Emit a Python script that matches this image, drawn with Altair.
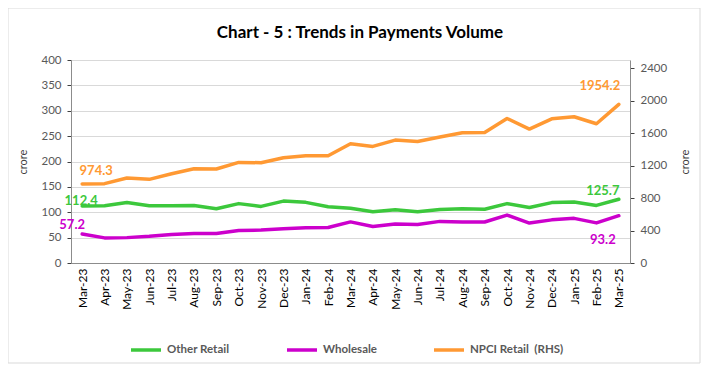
import altair as alt
import pandas as pd

months = ["Mar-23", "Apr-23", "May-23", "Jun-23", "Jul-23", "Aug-23", "Sep-23",
          "Oct-23", "Nov-23", "Dec-23", "Jan-24", "Feb-24", "Mar-24", "Apr-24",
          "May-24", "Jun-24", "Jul-24", "Aug-24", "Sep-24", "Oct-24", "Nov-24",
          "Dec-24", "Jan-25", "Feb-25", "Mar-25"]
other_retail = [112.4, 113, 119, 113, 113, 113.5, 107, 117, 111.5, 122, 119.5, 111,
                108, 101, 105, 101, 105.6, 107, 106, 117, 109.5, 119, 120, 113.5, 125.7]
wholesale = [57.2, 49.5, 50, 52.5, 56, 58, 58, 64, 65, 67.5, 69.5, 70,
             81, 72, 77, 76, 82, 81, 80.7, 94.4, 78.7, 85, 88, 79, 93.2]
npci_retail = [974.3, 977, 1046, 1030, 1099, 1161, 1157, 1239, 1235, 1296, 1321, 1321,
               1469, 1436, 1514, 1497, 1551, 1604, 1608, 1780, 1649, 1776, 1801, 1715, 1954.2]

series_names = ["Other Retail", "Wholesale", "NPCI Retail\u00a0 (RHS)"]
series_colors = ["#3CC83C", "#CC00CC", "#FF9933"]
left_ticks = list(range(0, 401, 50))
right_ticks = list(range(0, 2401, 400))
title_text = "Chart - 5 : Trends in Payments Volume"

df = pd.DataFrame({"month": months, "other": other_retail,
                   "wholesale": wholesale, "npci": npci_retail})

FONT = "Lato"

x_enc = alt.X("month:O", sort=months, scale=alt.Scale(type="point", padding=0.5),
              axis=alt.Axis(title=None, labelAngle=270, ticks=False, domainColor="#8C8C8C",
                            labelColor="#000000", labelFontSize=12, labelPadding=5,
                            grid=False))

left_axis = alt.Axis(title="crore", values=left_ticks, grid=True, format="d",
                     labelOverlap=False, gridColor="#D9D9D9", domainColor="#8C8C8C",
                     tickColor="#404040", tickSize=4, labelColor="#595959",
                     labelFontSize=11.5, labelPadding=6, titleFontWeight="normal",
                     titleFontSize=11, titleColor="#404040", titlePadding=12)
right_axis = alt.Axis(orient="right", title="crore", values=right_ticks, grid=False,
                      format="d", labelOverlap=False, domainColor="#8C8C8C",
                      tickColor="#404040", tickSize=4, labelColor="#595959",
                      labelFontSize=11.5, labelPadding=6, titleFontWeight="normal",
                      titleFontSize=11, titleColor="#404040", titlePadding=24,
                      titleAngle=270)
left_scale = alt.Scale(domain=[0, 400])
right_scale = alt.Scale(domain=[0, 2500])

legend = alt.Legend(title=None, orient="none", legendX=58, legendY=273, direction="horizontal",
                    symbolType="stroke", symbolSize=900, symbolStrokeWidth=3.5,
                    labelFontSize=11.5, labelFontWeight="bold", labelColor="#595959",
                    columnPadding=50, labelOffset=4)

color_scale = alt.Scale(domain=series_names, range=series_colors)

left_lines = alt.Chart(df).transform_fold(
    ["other", "wholesale"], as_=["key", "value"]
).transform_calculate(
    series=f"datum.key == 'other' ? '{series_names[0]}' : '{series_names[1]}'"
).mark_line(strokeWidth=3.5, strokeCap="round", strokeJoin="round").encode(
    x=x_enc,
    y=alt.Y("value:Q", scale=left_scale, axis=left_axis),
    color=alt.Color("series:N", scale=color_scale, legend=legend),
)

def label(field, month, color, dx, dy, scale, axis):
    return alt.Chart(df).transform_filter(alt.datum.month == month).mark_text(
        color=color, fontSize=13, fontWeight="bold", dx=dx, dy=dy,
        align="center", font=FONT
    ).encode(x=x_enc, y=alt.Y(f"{field}:Q", scale=scale, axis=axis),
             text=alt.Text(f"{field}:Q", format=".1f"))

left_labels = [
    label("other", "Mar-23", series_colors[0], -1, -5, left_scale, left_axis),
    label("wholesale", "Mar-23", series_colors[1], -10, -9, left_scale, left_axis),
    label("other", "Mar-25", series_colors[0], -16, -8, left_scale, left_axis),
    label("wholesale", "Mar-25", series_colors[1], -16, 24, left_scale, left_axis),
]

border = alt.Chart(alt.Data(values=[{}])).mark_rect(
    fill=None, stroke="#D9D9D9", strokeWidth=1
).encode(x=alt.value(-63), x2=alt.value(629), y=alt.value(-52), y2=alt.value(303))

title_mark = alt.Chart(alt.Data(values=[{"t": title_text}])).mark_text(
    fontSize=17, fontWeight="bold", color="#000000", font=FONT, align="center",
    baseline="alphabetic"
).encode(text="t:N", x=alt.value(289), y=alt.value(-22))

left_layer = alt.layer(border, title_mark, left_lines, *left_labels)

right_line = alt.Chart(df).transform_calculate(
    series=f"'{series_names[2]}'"
).mark_line(strokeWidth=3.5, strokeCap="round", strokeJoin="round").encode(
    x=x_enc,
    y=alt.Y("npci:Q", scale=right_scale, axis=right_axis),
    color=alt.Color("series:N", scale=color_scale, legend=legend),
)

right_labels = [
    label("npci", "Mar-23", series_colors[2], 14, -13, right_scale, right_axis),
    label("npci", "Mar-25", series_colors[2], -19, -18, right_scale, right_axis),
]

right_layer = alt.layer(right_line, *right_labels)

chart = alt.layer(left_layer, right_layer).resolve_scale(y="independent").properties(
    width=559, height=203,
    autosize=alt.AutoSizeParams(type="none"),
    padding={"left": 63, "top": 52, "right": 71, "bottom": 101},
).configure(font=FONT).configure_view(stroke=None)

chart.save("out.html", embed_options={"renderer": "svg", "actions": False})
